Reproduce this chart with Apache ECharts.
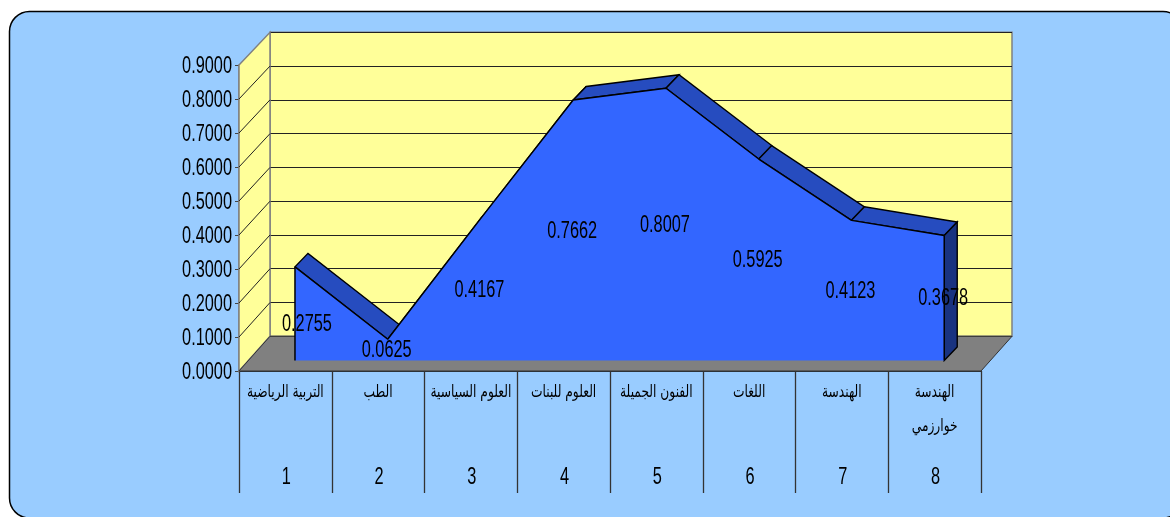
<!DOCTYPE html>
<html>
<head>
<meta charset="utf-8">
<style>
  html, body { margin: 0; padding: 0; background: #fff; }
  #main { width: 1170px; height: 517px; }
</style>
<script src="https://cdn.jsdelivr.net/npm/echarts@6/dist/echarts.min.js"></script>
</head>
<body>
<div id="main"></div>
<script>
const categories = ['التربية الرياضية', 'الطب', 'العلوم السياسية', 'العلوم للبنات', 'الفنون الجميلة', 'اللغات', 'الهندسة', 'الهندسة\nخوارزمي'];
const ranks = ['1', '2', '3', '4', '5', '6', '7', '8'];
const values = [0.2755, 0.0625, 0.4167, 0.7662, 0.8007, 0.5925, 0.4123, 0.3678];
const yTicks = [0, 0.1, 0.2, 0.3, 0.4, 0.5, 0.6, 0.7, 0.8, 0.9];

const chart = echarts.init(document.getElementById('main'), null, { renderer: 'canvas' });

// depth of the fake 3D box and of the area ribbon, in px
const boxDx = 31;
const ribbonDx = 13, ribbonDy = -13.5;
// the source text is squeezed sideways, no narrow font here so scale it
const numFont = '23px "Liberation Sans", sans-serif';
const numScale = 0.71;
const arabicFont = '17px "DejaVu Sans", sans-serif';
const arabicScale = 0.72;

// 0: front axes, 1: back wall, 2: plane of the area series
const grids = [
  { left: 239, top: 65, width: 742, height: 306 },
  { left: 270, top: 32.3, width: 742, height: 304, show: true, backgroundColor: '#FFFF99', borderColor: '#808080', borderWidth: 1.5 },
  { left: 248.6, top: 54.5, width: 742, height: 306 }
];

function backY(v) {
  return grids[1].top + grids[1].height * (1 - v / 0.9);
}

function squeezedText(text, x, y, font, scale, align) {
  return {
    type: 'text',
    x: x,
    y: y,
    scaleX: scale,
    style: { text: text, font: font, fill: '#000', align: align || 'center', verticalAlign: 'middle' }
  };
}

// left wall, floor and the value axis labels
function renderBox(params, api) {
  const cs = params.coordSys;
  const v = api.value(0);
  const x0 = cs.x, x1 = cs.x + cs.width, bottom = cs.y + cs.height;
  const y = api.coord([0, v])[1];
  const children = [];
  if (params.dataIndex === 0) {
    children.push({
      type: 'polygon',
      shape: { points: [[x0, bottom], [x0, cs.y], [x0 + boxDx, backY(0.9)], [x0 + boxDx, backY(0)]] },
      style: { fill: '#FFFF99', stroke: '#808080', lineWidth: 1.5 }
    });
    children.push({
      type: 'polygon',
      shape: { points: [[x0, bottom], [x1, bottom], [x1 + boxDx, backY(0)], [x0 + boxDx, backY(0)]] },
      style: { fill: '#808080', stroke: '#333', lineWidth: 1 }
    });
  } else if (v < 0.9) {
    children.push({
      type: 'line',
      shape: { x1: x0, y1: y, x2: x0 + boxDx, y2: backY(v) },
      style: { stroke: '#222', lineWidth: 1 }
    });
  }
  children.push(squeezedText(v.toFixed(4), x0 - 7, y + 2, numFont, numScale, 'right'));
  return { type: 'group', children: children };
}

// category names and the numbers under them
function renderCategory(params, api) {
  const i = params.dataIndex;
  const x = api.coord([i, 0])[0];
  const children = [];
  categories[i].split('\n').forEach((line, n) => {
    children.push(squeezedText(line, x, 393 + n * 34, arabicFont, arabicScale));
  });
  children.push(squeezedText(ranks[i], x + 1, 478, numFont, numScale));
  return { type: 'group', children: children };
}

// top faces and right end of the area, the front face covers the rising parts
function renderRibbon(params, api) {
  const i = params.dataIndex;
  const p = api.coord([i, api.value(1)]);
  const children = [];
  if (i < values.length - 1) {
    const n = api.coord([i + 1, values[i + 1]]);
    children.push({
      type: 'polygon',
      shape: { points: [p, n, [n[0] + ribbonDx, n[1] + ribbonDy], [p[0] + ribbonDx, p[1] + ribbonDy]] },
      style: { fill: '#264CBF', stroke: '#000', lineWidth: 1.4 }
    });
  } else {
    const b = api.coord([i, 0]);
    children.push({
      type: 'polygon',
      shape: { points: [p, b, [b[0] + ribbonDx, b[1] + ribbonDy], [p[0] + ribbonDx, p[1] + ribbonDy]] },
      style: { fill: '#193380', stroke: '#000', lineWidth: 1.4 }
    });
  }
  return { type: 'group', children: children };
}

// end edges of the front face and the value labels at half height
function renderLabels(params, api) {
  const i = params.dataIndex;
  const v = api.value(1);
  const mid = api.coord([i, v / 2]);
  const children = [];
  if (i === 0 || i === values.length - 1) {
    const p = api.coord([i, v]);
    const b = api.coord([i, 0]);
    children.push({
      type: 'line',
      shape: { x1: p[0], y1: p[1], x2: b[0], y2: b[1] },
      style: { stroke: '#000', lineWidth: 1.5 }
    });
  }
  // first label sits a bit off, as in the source chart
  const nudgeX = i === 0 ? 12 : -1;
  const nudgeY = i === 0 ? 10 : 0;
  children.push(squeezedText(v.toFixed(4), mid[0] + nudgeX, mid[1] + nudgeY + 1, numFont, numScale));
  return { type: 'group', children: children };
}

const option = {
  animation: false,
  backgroundColor: '#fff',
  graphic: [{
    type: 'rect',
    z: -10,
    shape: { x: 9.5, y: 11.5, width: 1173.5, height: 506.5, r: 20 },
    style: { fill: '#99CCFF', stroke: '#000', lineWidth: 1.5 }
  }],
  grid: grids,
  xAxis: [
    {
      type: 'category', gridIndex: 0, data: categories, position: 'bottom',
      axisLine: { show: true, lineStyle: { color: '#000', width: 1.5 } },
      axisTick: { show: true, interval: 0, length: 122, lineStyle: { color: '#333', width: 1.3 } },
      axisLabel: { show: false }
    },
    { type: 'category', gridIndex: 1, data: categories, show: false },
    { type: 'category', gridIndex: 2, data: categories, show: false }
  ],
  yAxis: [
    {
      type: 'value', gridIndex: 0, min: 0, max: 0.9, interval: 0.1,
      axisLine: { show: true, lineStyle: { color: '#808080', width: 1.5 } },
      axisTick: { show: true, length: 4, lineStyle: { color: '#444' } },
      axisLabel: { show: false },
      splitLine: { show: false }
    },
    {
      type: 'value', gridIndex: 1, min: 0, max: 0.9, interval: 0.1,
      axisLine: { show: false }, axisTick: { show: false }, axisLabel: { show: false },
      splitLine: { show: true, lineStyle: { color: '#222', width: 1 } }
    },
    { type: 'value', gridIndex: 2, min: 0, max: 0.9, show: false }
  ],
  series: [
    {
      type: 'custom', xAxisIndex: 0, yAxisIndex: 0, z: 1,
      renderItem: renderBox,
      data: yTicks.map(v => [v]),
      encode: { y: 0 },
      silent: true
    },
    {
      type: 'custom', xAxisIndex: 0, yAxisIndex: 0, z: 2,
      renderItem: renderCategory,
      data: categories.map((c, i) => [i, 0]),
      silent: true
    },
    {
      type: 'custom', xAxisIndex: 2, yAxisIndex: 2, z: 3,
      renderItem: renderRibbon,
      data: values.map((v, i) => [i, v]),
      silent: true
    },
    {
      type: 'line', xAxisIndex: 2, yAxisIndex: 2, z: 4,
      data: values,
      symbol: 'none',
      lineStyle: { color: '#000', width: 1.4 },
      areaStyle: { color: '#3366FF', opacity: 1 }
    },
    {
      type: 'custom', xAxisIndex: 2, yAxisIndex: 2, z: 5,
      renderItem: renderLabels,
      data: values.map((v, i) => [i, v]),
      silent: true
    }
  ]
};

chart.setOption(option);
</script>
</body>
</html>
